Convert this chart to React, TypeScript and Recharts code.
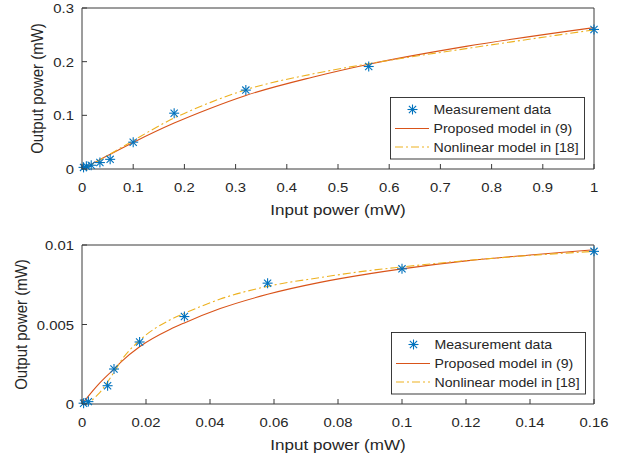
import React from 'react';
import { ComposedChart, Line, Scatter, XAxis, YAxis, Legend } from 'recharts';

// ---------- data ----------
const seriesNames = ['Measurement data', 'Proposed model in (9)', 'Nonlinear model in [18]'];
const xTitle = 'Input power (mW)';
const yTitle = 'Output power (mW)';

// top panel
const topMeasX = [0.003, 0.0085, 0.018, 0.035, 0.055, 0.1, 0.18, 0.32, 0.56, 1.0];
const topMeasY = [0.003, 0.005, 0.007, 0.012, 0.018, 0.05, 0.104, 0.147, 0.191, 0.26];
const topModelX = [0, 0.02, 0.05, 0.1, 0.18, 0.25, 0.32, 0.45, 0.56, 0.75, 1.0];
const topPropY = [0, 0.01, 0.025, 0.0495, 0.0855, 0.1128, 0.137, 0.171, 0.1952, 0.2285, 0.2635];
const topNonY = [0, 0.009, 0.025, 0.053, 0.095, 0.1237, 0.1477, 0.177, 0.1962, 0.2243, 0.2593];
const topXTicks = [0, 0.1, 0.2, 0.3, 0.4, 0.5, 0.6, 0.7, 0.8, 0.9, 1];
const topXLabels = ['0', '0.1', '0.2', '0.3', '0.4', '0.5', '0.6', '0.7', '0.8', '0.9', '1'];
const topYTicks = [0, 0.1, 0.2, 0.3];
const topYLabels = ['0', '0.1', '0.2', '0.3'];

// bottom panel
const botMeasX = [0.0005, 0.002, 0.008, 0.01, 0.018, 0.032, 0.058, 0.1, 0.16];
const botMeasY = [0.00005, 0.00015, 0.00115, 0.0022, 0.0039, 0.0055, 0.0076, 0.0085, 0.0096];
const botModelX = [0, 0.002, 0.005, 0.01, 0.0125, 0.018, 0.0276, 0.032, 0.0432, 0.058, 0.0744, 0.09, 0.1, 0.12, 0.14, 0.16];
const botPropY = [0, 0.0005, 0.0012, 0.0022, 0.0027, 0.0036, 0.0047, 0.0051, 0.006, 0.0069, 0.00765, 0.0082, 0.0085, 0.009, 0.00937, 0.0097];
const botNonY = [0, 0.0001, 0.0006, 0.002, 0.0028, 0.004, 0.0053, 0.0057, 0.0066, 0.0074, 0.00795, 0.0084, 0.00862, 0.00902, 0.00934, 0.0096];
const botXTicks = [0, 0.02, 0.04, 0.06, 0.08, 0.1, 0.12, 0.14, 0.16];
const botXLabels = ['0', '0.02', '0.04', '0.06', '0.08', '0.1', '0.12', '0.14', '0.16'];
const botYTicks = [0, 0.005, 0.01];
const botYLabels = ['0', '0.005', '0.01'];

// ---------- styles ----------
const TXT = '#262626';
const AX = '#3a3a3a';
const BLUE = '#0072BD';
const RED = '#D95319';
const YEL = '#EDB120';
const FONT = '"Liberation Sans", Arial, Helvetica, sans-serif';
const DASHDOT = '8 3 2 3';

const labelFor = (ticks: number[], labels: string[], v: number) => {
  const i = ticks.findIndex((t) => Math.abs(t - v) < 1e-9);
  return i >= 0 ? labels[i] : String(v);
};

const Star = (props: any) => {
  const { cx, cy } = props;
  if (cx == null || cy == null || isNaN(cx) || isNaN(cy)) return null;
  const r = 5;
  const d = 3.6;
  return (
    <g stroke={BLUE} strokeWidth={1.1}>
      <line x1={cx - r} y1={cy} x2={cx + r} y2={cy} />
      <line x1={cx} y1={cy - r} x2={cx} y2={cy + r} />
      <line x1={cx - d} y1={cy - d} x2={cx + d} y2={cy + d} />
      <line x1={cx - d} y1={cy + d} x2={cx + d} y2={cy - d} />
    </g>
  );
};

const BottomTick = (props: any) => {
  const { x, y, payload, ticks, labels } = props;
  const lab = labelFor(ticks, labels, payload.value);
  return (
    <g>
      <line x1={x} y1={y} x2={x} y2={y - 5} stroke={AX} strokeWidth={1} />
      <g transform={`translate(${x},${y + 23}) scale(1.1,1)`}>
        <text x={0} y={0} textAnchor="middle" fontSize={13.5} fill={TXT} fontFamily={FONT}>
          {lab}
        </text>
      </g>
    </g>
  );
};

const TopTick = (props: any) => {
  const { x, y } = props;
  return <line x1={x} y1={y} x2={x} y2={y + 5} stroke={AX} strokeWidth={1} />;
};

const LeftTick = (props: any) => {
  const { x, y, payload, ticks, labels } = props;
  const lab = labelFor(ticks, labels, payload.value);
  return (
    <g>
      <line x1={x} y1={y} x2={x + 5} y2={y} stroke={AX} strokeWidth={1} />
      <g transform={`translate(${x - 8},${y + 5}) scale(1.1,1)`}>
        <text x={0} y={0} textAnchor="end" fontSize={13.5} fill={TXT} fontFamily={FONT}>
          {lab}
        </text>
      </g>
    </g>
  );
};

const RightTick = (props: any) => {
  const { x, y } = props;
  return <line x1={x} y1={y} x2={x - 5} y2={y} stroke={AX} strokeWidth={1} />;
};

const XTitle = (props: any) => {
  const vb = props.viewBox || {};
  const cx = (vb.x ?? 82) + (vb.width ?? 512) / 2;
  const y = (vb.y ?? 169) + 46;
  return (
    <g transform={`translate(${cx},${y}) scale(1.1,1)`}>
      <text x={0} y={0} textAnchor="middle" fontSize={15.5} fill={TXT} fontFamily={FONT}>
        {xTitle}
      </text>
    </g>
  );
};

const YTitle = (props: any) => {
  const vb = props.viewBox || {};
  const cy = (vb.y ?? 8) + (vb.height ?? 161) / 2;
  const bx = props.baseX;
  return (
    <g transform={`translate(${bx},${cy}) scale(1.1,1) rotate(-90)`}>
      <text x={0} y={0} textAnchor="middle" fontSize={15} fill={TXT} fontFamily={FONT}>
        {yTitle}
      </text>
    </g>
  );
};

const LegendBox = () => {
  const rows = [12.5, 31.5, 50];
  return (
    <svg width={196} height={63} style={{ display: 'block' }}>
      <rect x={0.5} y={0.5} width={194} height={61.5} fill="#fff" stroke={TXT} strokeWidth={0.9} />
      <Star cx={22.5} cy={rows[0]} />
      <line x1={5} y1={rows[1]} x2={39} y2={rows[1]} stroke={RED} strokeWidth={1.1} />
      <line x1={5} y1={rows[2]} x2={39} y2={rows[2]} stroke={YEL} strokeWidth={1.1} strokeDasharray={DASHDOT} />
      {seriesNames.map((n, i) => (
        <g key={n} transform={`translate(43.5,${rows[i] + 4.7}) scale(1.07,1)`}>
          <text x={0} y={0} fontSize={13.2} fill={TXT} fontFamily={FONT}>
            {n}
          </text>
        </g>
      ))}
    </svg>
  );
};

type PanelProps = {
  top: number;
  measX: number[];
  measY: number[];
  modelX: number[];
  propY: number[];
  nonY: number[];
  xTicks: number[];
  xLabels: string[];
  yTicks: number[];
  yLabels: string[];
  marginTop: number;
  xAxisH: number;
  yTitleX: number;
  legendLeft: number;
  legendTop: number;
};

const Panel = (p: PanelProps) => {
  const meas = p.measX.map((x, i) => ({ x, y: p.measY[i] }));
  const prop = p.modelX.map((x, i) => ({ x, y: p.propY[i] }));
  const non = p.modelX.map((x, i) => ({ x, y: p.nonY[i] }));
  const xDom = [p.xTicks[0], p.xTicks[p.xTicks.length - 1]];
  const yDom = [p.yTicks[0], p.yTicks[p.yTicks.length - 1]];
  return (
    <div style={{ position: 'absolute', left: 0, top: p.top, width: 633, height: 231 }}>
      <ComposedChart
        width={633}
        height={231}
        margin={{ top: p.marginTop, right: 38, bottom: 0, left: 0 }}
        style={{ fontFamily: FONT }}
      >
        <XAxis
          xAxisId="b"
          dataKey="x"
          type="number"
          domain={xDom}
          ticks={p.xTicks}
          interval={0}
          height={p.xAxisH}
          tickSize={0}
          tickMargin={0}
          tickLine={false}
          axisLine={{ stroke: AX, strokeWidth: 1 }}
          tick={<BottomTick ticks={p.xTicks} labels={p.xLabels} />}
          label={<XTitle />}
        />
        <XAxis
          xAxisId="t"
          dataKey="x"
          type="number"
          orientation="top"
          domain={xDom}
          ticks={p.xTicks}
          interval={0}
          height={1}
          tickSize={0}
          tickMargin={0}
          tickLine={false}
          axisLine={{ stroke: AX, strokeWidth: 1 }}
          tick={<TopTick />}
        />
        <YAxis
          yAxisId="l"
          type="number"
          domain={yDom}
          ticks={p.yTicks}
          interval={0}
          width={82}
          tickSize={0}
          tickMargin={0}
          tickLine={false}
          axisLine={{ stroke: AX, strokeWidth: 1 }}
          tick={<LeftTick ticks={p.yTicks} labels={p.yLabels} />}
          label={<YTitle baseX={p.yTitleX} />}
        />
        <YAxis
          yAxisId="r"
          orientation="right"
          type="number"
          domain={yDom}
          ticks={p.yTicks}
          interval={0}
          width={1}
          tickSize={0}
          tickMargin={0}
          tickLine={false}
          axisLine={{ stroke: AX, strokeWidth: 1 }}
          tick={<RightTick />}
        />
        <Scatter
          name={seriesNames[0]}
          data={meas}
          dataKey="y"
          xAxisId="b"
          yAxisId="l"
          shape={Star}
          isAnimationActive={false}
        />
        <Line
          name={seriesNames[1]}
          data={prop}
          dataKey="y"
          xAxisId="b"
          yAxisId="l"
          type="monotone"
          stroke={RED}
          strokeWidth={1.1}
          dot={false}
          activeDot={false}
          isAnimationActive={false}
        />
        <Line
          name={seriesNames[2]}
          data={non}
          dataKey="y"
          xAxisId="b"
          yAxisId="l"
          type="monotone"
          stroke={YEL}
          strokeWidth={1.1}
          strokeDasharray={DASHDOT}
          dot={false}
          activeDot={false}
          isAnimationActive={false}
        />
        <Legend
          layout="vertical"
          align="center"
          verticalAlign="middle"
          content={() => <LegendBox />}
          wrapperStyle={{ position: 'absolute', left: p.legendLeft, top: p.legendTop, width: 196, height: 63, margin: 0 }}
        />
      </ComposedChart>
    </div>
  );
};

export default function App() {
  return (
    <div style={{ position: 'absolute', left: 0, top: 0, width: 633, height: 462, background: '#fff' }}>
      <Panel
        top={0}
        measX={topMeasX}
        measY={topMeasY}
        modelX={topModelX}
        propY={topPropY}
        nonY={topNonY}
        xTicks={topXTicks}
        xLabels={topXLabels}
        yTicks={topYTicks}
        yLabels={topYLabels}
        marginTop={7}
        xAxisH={62}
        yTitleX={43}
        legendLeft={390}
        legendTop={97}
      />
      <Panel
        top={231}
        measX={botMeasX}
        measY={botMeasY}
        modelX={botModelX}
        propY={botPropY}
        nonY={botNonY}
        xTicks={botXTicks}
        xLabels={botXLabels}
        yTicks={botYTicks}
        yLabels={botYLabels}
        marginTop={13}
        xAxisH={58}
        yTitleX={27}
        legendLeft={391}
        legendTop={101}
      />
    </div>
  );
}
